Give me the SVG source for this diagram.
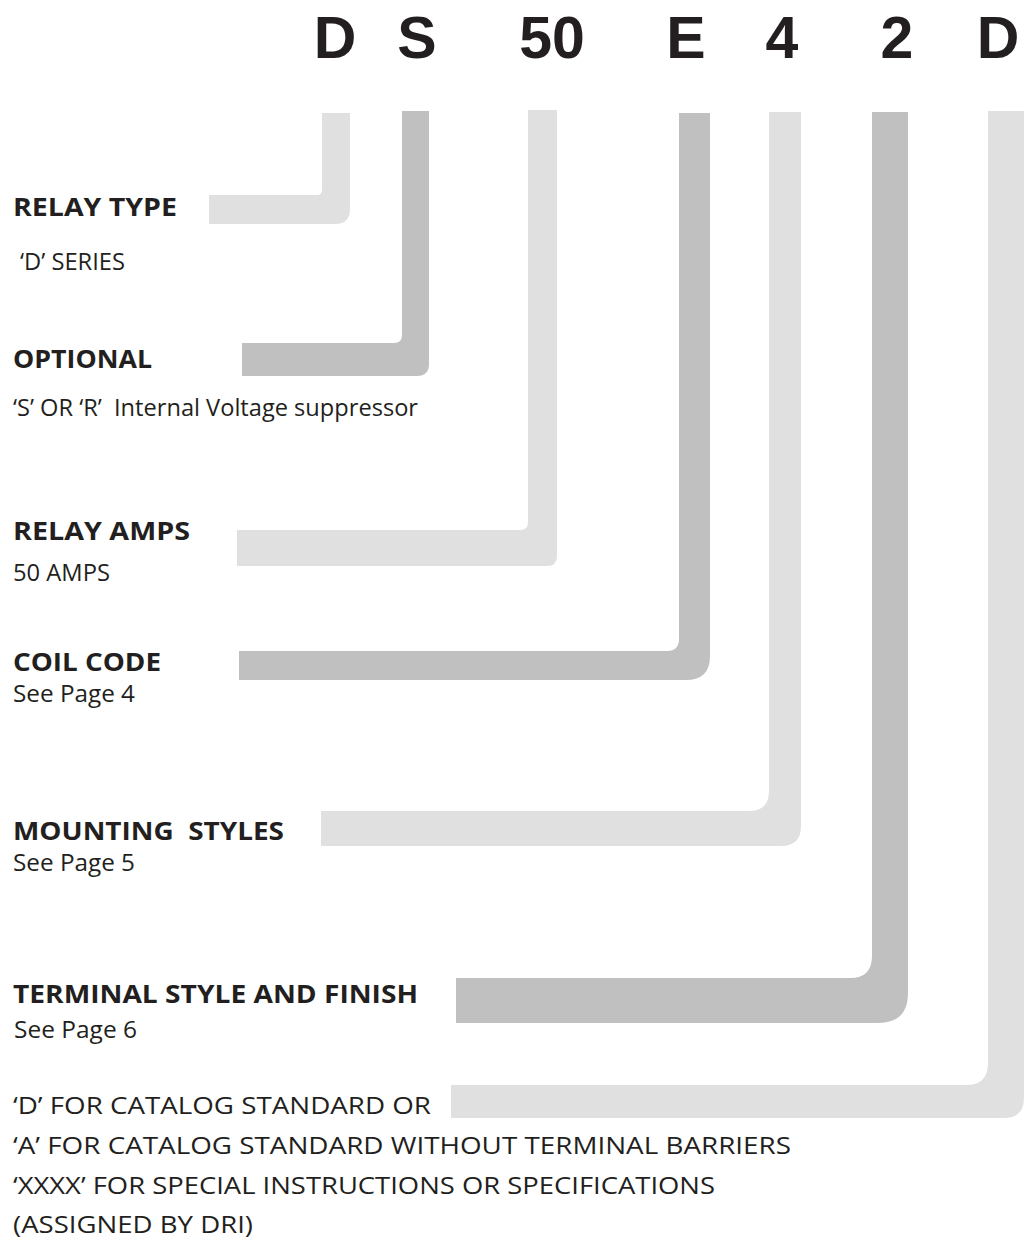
<svg xmlns="http://www.w3.org/2000/svg" width="1027" height="1238" viewBox="0 0 1027 1238">
<style>
.code{font-family:"Liberation Sans",Arial,sans-serif;font-weight:bold;font-size:59px;fill:#231f20;text-anchor:middle}
.h{font-family:"Open Sans","Liberation Sans",Arial,sans-serif;font-weight:bold;font-size:25px;fill:#231f20}
.t{font-family:"Open Sans","Liberation Sans",Arial,sans-serif;font-size:23px;fill:#231f20}
.lt{fill:#e0e0e0}
.dk{fill:#c0c0c0}
</style>
<rect width="1027" height="1238" fill="#ffffff"/>
<g id="code">
<text class="code" x="335" y="58">D</text>
<text class="code" x="417" y="58">S</text>
<text class="code" x="552" y="58">50</text>
<text class="code" x="686" y="58">E</text>
<text class="code" x="782" y="58">4</text>
<text class="code" x="897" y="58">2</text>
<text class="code" x="998" y="58">D</text>
</g>
<g id="connectors">
<path class="lt" d="M209,195 H317 Q322,195 322,190 V113 H350 V209 Q350,224 335,224 H209 Z"/>
<path class="dk" d="M242,343 H394 Q402,343 402,335 V111 H429 V364 Q429,376 417,376 H242 Z"/>
<path class="lt" d="M237,530 H520 Q528,530 528,522 V110 H557 V556 Q557,566 547,566 H237 Z"/>
<path class="dk" d="M239,651 H667 Q679,651 679,639 V113 H710 V656 Q710,680 686,680 H239 Z"/>
<path class="lt" d="M321,811 H749 Q769,811 769,791 V112 H801 V826 Q801,846 781,846 H321 Z"/>
<path class="dk" d="M456,978 H850 Q872,978 872,956 V112 H908 V993 Q908,1023 878,1023 H456 Z"/>
<path class="lt" d="M451,1085 H966 Q988,1085 988,1063 V111 H1024 V1098 Q1024,1118 1004,1118 H451 Z"/>
</g>
<g id="relay-type">
<text class="h" x="13" y="216" textLength="164" lengthAdjust="spacingAndGlyphs">RELAY TYPE</text>
<text class="t" x="20" y="270" textLength="105" lengthAdjust="spacingAndGlyphs">‘D’ SERIES</text>
</g>
<g id="optional">
<text class="h" x="13" y="368" textLength="139" lengthAdjust="spacingAndGlyphs">OPTIONAL</text>
<text class="t" x="13" y="416" textLength="405" lengthAdjust="spacingAndGlyphs" xml:space="preserve">‘S’ OR ‘R’  Internal Voltage suppressor</text>
</g>
<g id="relay-amps">
<text class="h" x="13" y="540" textLength="177" lengthAdjust="spacingAndGlyphs">RELAY AMPS</text>
<text class="t" x="13" y="581" textLength="97" lengthAdjust="spacingAndGlyphs">50 AMPS</text>
</g>
<g id="coil-code">
<text class="h" x="13" y="671" textLength="148" lengthAdjust="spacingAndGlyphs">COIL CODE</text>
<text class="t" x="13" y="702" textLength="122" lengthAdjust="spacingAndGlyphs">See Page 4</text>
</g>
<g id="mounting-styles">
<text class="h" x="13" y="840" textLength="271" lengthAdjust="spacingAndGlyphs" xml:space="preserve">MOUNTING  STYLES</text>
<text class="t" x="13" y="871" textLength="122" lengthAdjust="spacingAndGlyphs">See Page 5</text>
</g>
<g id="terminal-style">
<text class="h" x="13" y="1003" textLength="405" lengthAdjust="spacingAndGlyphs">TERMINAL STYLE AND FINISH</text>
<text class="t" x="14" y="1038" textLength="123" lengthAdjust="spacingAndGlyphs">See Page 6</text>
</g>
<g id="suffix">
<text class="t" x="13" y="1114" textLength="418" lengthAdjust="spacingAndGlyphs">‘D’ FOR CATALOG STANDARD OR</text>
<text class="t" x="13" y="1154" textLength="778" lengthAdjust="spacingAndGlyphs">‘A’ FOR CATALOG STANDARD WITHOUT TERMINAL BARRIERS</text>
<text class="t" x="13" y="1194" textLength="702" lengthAdjust="spacingAndGlyphs">‘XXXX’ FOR SPECIAL INSTRUCTIONS OR SPECIFICATIONS</text>
<text class="t" x="13" y="1233" textLength="240" lengthAdjust="spacingAndGlyphs">(ASSIGNED BY DRI)</text>
</g>
</svg>
